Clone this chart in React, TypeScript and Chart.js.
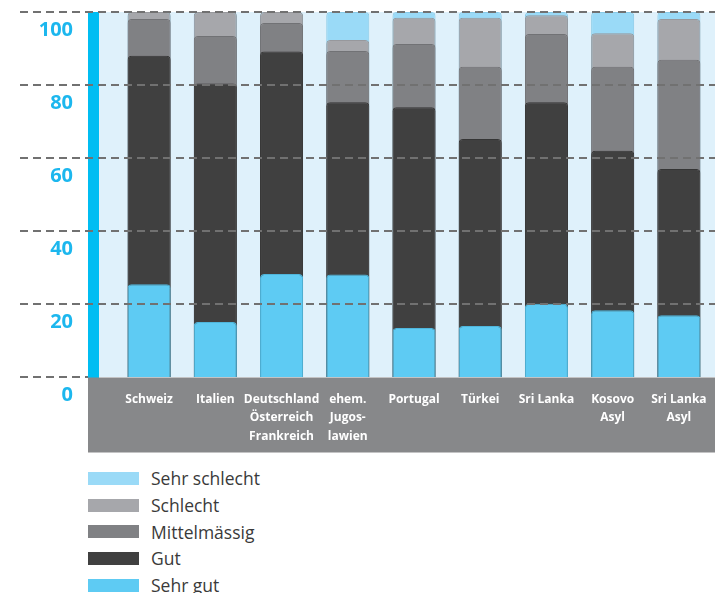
import React, { useEffect, useRef } from "react";
import { Chart, registerables } from "chart.js";

Chart.register(...registerables);

const categories: string[][] = [
  ["Schweiz"],
  ["Italien"],
  ["Deutschland", "Österreich", "Frankreich"],
  ["ehem.", "Jugos-", "lawien"],
  ["Portugal"],
  ["Türkei"],
  ["Sri Lanka"],
  ["Kosovo", "Asyl"],
  ["Sri Lanka", "Asyl"],
];

const sehrGut = [25.4, 15.1, 28.2, 28.1, 13.4, 14.0, 20.1, 18.3, 16.9];
const gut = [62.6, 65.3, 61.0, 47.2, 60.5, 51.2, 55.2, 43.7, 40.1];
const mittelmaessig = [10.1, 13.0, 7.8, 14.0, 17.3, 19.8, 18.7, 23.0, 29.9];
const schlecht = [1.9, 6.6, 3.0, 3.0, 7.2, 13.4, 5.1, 9.2, 11.2];
const sehrSchlecht = [0, 0, 0, 7.7, 1.6, 1.6, 0.9, 5.8, 1.9];

const yTicks = [0, 20, 40, 60, 80, 100];

const seriesNames = ["Sehr gut", "Gut", "Mittelmässig", "Schlecht", "Sehr schlecht"];
const seriesValues = [sehrGut, gut, mittelmaessig, schlecht, sehrSchlecht];
const seriesColors = ["#5ecbf3", "#404040", "#808184", "#a6a7ab", "#9adaf7"];
const seriesBorders = ["#4fb6dc", "#353535", "#717275", "#97989c", "#88c9e6"];

const legendOrder = [4, 3, 2, 1, 0];

const decorPlugin = {
  id: "decor",
  beforeDraw(chart: any) {
    const { ctx, chartArea, width } = chart;
    const yScale = chart.scales.y;
    const top = yScale.getPixelForValue(100);
    const bottom = yScale.getPixelForValue(0);
    ctx.save();
    // light blue plot background
    ctx.fillStyle = "#dff1fb";
    ctx.fillRect(chartArea.left - 17, top, width - (chartArea.left - 17), bottom - top);
    // cyan axis bar
    ctx.fillStyle = "#00bdf2";
    ctx.fillRect(chartArea.left - 28, top, 11, bottom - top + 1);
    // gray label band
    ctx.fillStyle = "#87888a";
    ctx.fillRect(chartArea.left - 28, bottom + 0.5, width - (chartArea.left - 28), 75);
    ctx.restore();
  },
  afterDatasetsDraw(chart: any) {
    const { ctx, chartArea, width } = chart;
    const yScale = chart.scales.y;
    ctx.save();
    ctx.strokeStyle = "#717171";
    ctx.lineWidth = 2;
    ctx.setLineDash([8, 5]);
    yTicks.forEach((v) => {
      const y = Math.round(yScale.getPixelForValue(v));
      const x2 = v === 0 ? chartArea.left - 28 : width;
      ctx.beginPath();
      ctx.moveTo(20, y);
      ctx.lineTo(x2, y);
      ctx.stroke();
    });
    ctx.restore();
  },
};

export default function App() {
  const canvasRef = useRef<HTMLCanvasElement | null>(null);

  useEffect(() => {
    document.body.style.margin = "0";
    const canvas = canvasRef.current;
    if (!canvas) return;

    const datasets = seriesValues.map((vals, si) => ({
      label: seriesNames[si],
      data: vals.map((_, ci) => {
        let sum = 0;
        for (let k = 0; k <= si; k++) sum += seriesValues[k][ci];
        return sum;
      }),
      backgroundColor: seriesColors[si],
      borderColor: seriesBorders[si],
      borderWidth: 1,
      borderRadius: { topLeft: 4, topRight: 4, bottomLeft: 0, bottomRight: 0 },
      grouped: false,
      barPercentage: 0.65,
      categoryPercentage: 1,
    }));

    const chart = new Chart(canvas, {
      type: "bar",
      data: { labels: categories, datasets },
      plugins: [decorPlugin],
      options: {
        animation: false,
        responsive: false,
        maintainAspectRatio: false,
        layout: { padding: { top: 12, right: 3, left: 0, bottom: 0 } },
        plugins: {
          legend: { display: false },
          tooltip: { enabled: false },
        },
        scales: {
          x: {
            type: "category",
            grid: { display: false, drawTicks: false },
            border: { display: false },
            ticks: {
              color: "#ffffff",
              font: { family: "'Open Sans', sans-serif", size: 12, weight: "bold", lineHeight: 1.55 },
              padding: 13,
              maxRotation: 0,
              autoSkip: false,
            },
            afterFit(scale: any) {
              scale.height = 78;
              scale.paddingLeft = 0;
              scale.paddingRight = 0;
            },
          },
          y: {
            min: 0,
            max: 100,
            afterBuildTicks(scale: any) {
              scale.ticks = yTicks.map((v) => ({ value: v }));
            },
            grid: { display: false, drawTicks: false },
            border: { display: false },
            ticks: {
              color: "#1cb7ee",
              font: { family: "'Open Sans', sans-serif", size: 20, weight: "bold" },
              padding: 43,
              labelOffset: 18,
            },
            afterFit(scale: any) {
              scale.width = 116;
              scale.paddingTop = 0;
              scale.paddingBottom = 0;
            },
          },
        },
      },
    });
    return () => chart.destroy();
  }, []);

  return (
    <div style={{ width: 715, height: 593, position: "relative", overflow: "hidden", background: "#fff" }}>
      <canvas ref={canvasRef} width={715} height={455} style={{ display: "block", width: 715, height: 455 }} />
      <div style={{ position: "absolute", left: 88, top: 465, fontFamily: "'Open Sans', sans-serif" }}>
        {legendOrder.map((si) => (
          <div key={si} style={{ display: "flex", alignItems: "center", height: 26.7 }}>
            <div style={{ width: 51, height: 13, background: seriesColors[si] }} />
            <span style={{ marginLeft: 12, fontSize: 17.5, color: "#3a3a3a", lineHeight: "20px" }}>
              {seriesNames[si]}
            </span>
          </div>
        ))}
      </div>
    </div>
  );
}
